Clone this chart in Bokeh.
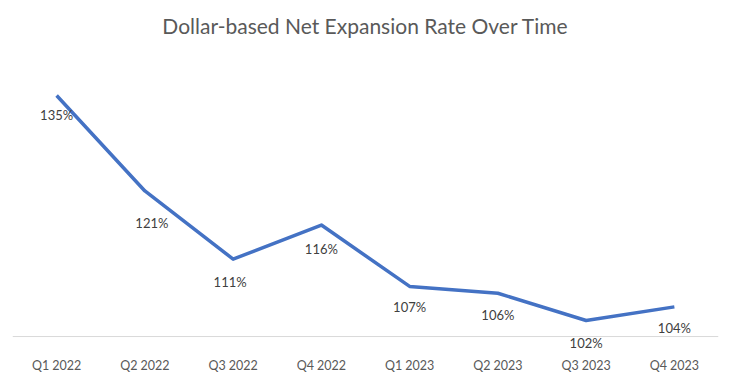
from bokeh.plotting import figure
from bokeh.models import ColumnDataSource, Range1d, FactorRange, Span
from bokeh.core.properties import value
from bokeh.embed import file_html
from bokeh.resources import INLINE

quarters = ["Q1 2022", "Q2 2022", "Q3 2022", "Q4 2022",
            "Q1 2023", "Q2 2023", "Q3 2023", "Q4 2023"]
rates = [135, 121, 111, 116, 107, 106, 102, 104]
labels = [f"{v}%" for v in rates]
axis_base = 99.65

# label placement (screen pixel offsets below each point)
label_dy = [20, 32, 23, 24, 21, 22, 22, 21]
label_dx = [0, 7, -3, 0, 0, 0, 0, 0]

src = ColumnDataSource(dict(q=quarters, r=rates, t=labels, dy=label_dy, dx=label_dx))

FONT = "Lato"

p = figure(width=730, height=378, x_range=FactorRange(*quarters, range_padding=0),
           y_range=Range1d(97.31, 142.77), output_backend="svg", toolbar_location=None,
           title="Dollar-based Net Expansion Rate Over Time",
           min_border_left=12, min_border_right=12, min_border_top=42, min_border_bottom=26)

p.title.align = "center"
p.title.text_font = FONT
p.title.text_font_size = "21px"
p.title.text_font_style = "normal"
p.title.text_color = "#595959"
p.title.standoff = 10

p.outline_line_color = None
p.background_fill_color = "white"
p.border_fill_color = "white"
p.xgrid.grid_line_color = None
p.ygrid.grid_line_color = None
p.yaxis.visible = False

ax = p.xaxis[0]
ax.axis_line_color = None
ax.major_tick_line_color = None
ax.minor_tick_line_color = None
ax.major_tick_out = 0
ax.minor_tick_out = 0
ax.major_tick_in = 0
ax.major_label_text_font = FONT
ax.major_label_text_font_size = "12.5px"
ax.major_label_text_color = "#595959"
ax.major_label_standoff = 5

p.add_layout(Span(location=axis_base, dimension="width", line_color="#D9D9D9", line_width=1))

p.line(x="q", y="r", source=src, line_color="#4472C4", line_width=3.5, line_join="round")

p.text(x="q", y="r", text="t", source=src, y_offset="dy", x_offset="dx",
       text_align="center", text_baseline="middle",
       text_font=value(FONT), text_font_size="13px", text_color="#404040")

open("out.html", "w").write(file_html(p, INLINE))
